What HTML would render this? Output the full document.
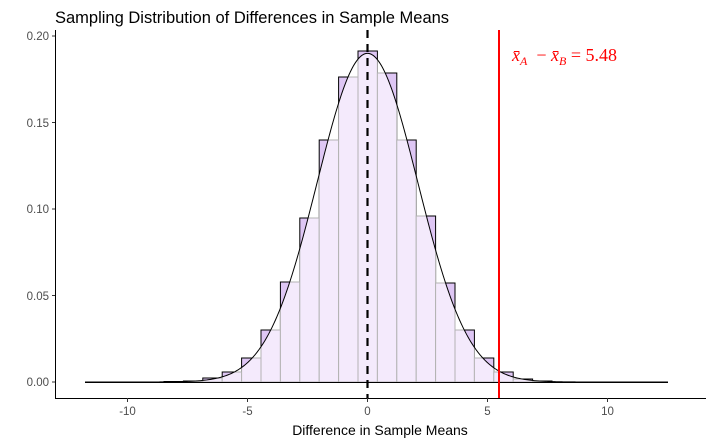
<!DOCTYPE html>
<html><head><meta charset="utf-8"><style>
html,body{margin:0;padding:0;background:#fff;}
svg{display:block;font-family:"Liberation Sans",sans-serif;}
</style></head><body>
<svg id="s" width="706" height="444" xmlns="http://www.w3.org/2000/svg">
<rect width="706" height="444" fill="#fff"/>
<text x="55" y="23" font-size="16.5" fill="#000">Sampling Distribution of Differences in Sample Means</text>
<g id="bars"></g>
<g id="axes" stroke="#000" stroke-width="1">
<line x1="55.5" y1="30" x2="55.5" y2="398"/>
<line x1="55" y1="398.5" x2="706" y2="398.5"/>
</g>
<g font-size="11.5" fill="#4d4d4d" text-anchor="end">
<text x="49" y="386">0.00</text>
<text x="49" y="300">0.05</text>
<text x="49" y="213">0.10</text>
<text x="49" y="127">0.15</text>
<text x="49" y="40">0.20</text>
</g>
<g stroke="#333" stroke-width="1">
<line x1="52" y1="382" x2="55" y2="382"/><line x1="52" y1="295.5" x2="55" y2="295.5"/><line x1="52" y1="209" x2="55" y2="209"/><line x1="52" y1="122.5" x2="55" y2="122.5"/><line x1="52" y1="36" x2="55" y2="36"/>
<line x1="127.5" y1="398" x2="127.5" y2="402"/><line x1="247.5" y1="398" x2="247.5" y2="402"/><line x1="367.5" y1="398" x2="367.5" y2="402"/><line x1="487.5" y1="398" x2="487.5" y2="402"/><line x1="607.5" y1="398" x2="607.5" y2="402"/>
</g>
<g font-size="11.5" fill="#4d4d4d" text-anchor="middle">
<text x="127.5" y="415">-10</text><text x="247.5" y="415">-5</text><text x="367.5" y="415">0</text><text x="487.5" y="415">5</text><text x="607.5" y="415">10</text>
</g>
<text x="380" y="435" font-size="14" fill="#000" text-anchor="middle">Difference in Sample Means</text>
<line x1="499" y1="30" x2="499" y2="398" stroke="#ff0000" stroke-width="2"/>
<text x="512" y="61" font-size="18" fill="#ff0000" font-family="Liberation Serif,serif"><tspan font-style="italic">x̄</tspan><tspan font-size="12" dy="4" font-style="italic">A</tspan><tspan dy="-4" xml:space="preserve">  − </tspan><tspan font-style="italic">x̄</tspan><tspan font-size="12" dy="4" font-style="italic">B</tspan><tspan dy="-4" xml:space="preserve"> = 5.48</tspan></text>
</svg>
<script>
var NS="http://www.w3.org/2000/svg";
var g=document.getElementById('bars');
function py(d){return 382-1730*d;}
var sd=2.1;
function dens(v){return Math.exp(-v*v/(2*sd*sd))/(sd*Math.sqrt(2*Math.PI));}
var tops={"-8":381.5,"-7":381,"-6":378,"-5":372,"-4":358,"-3":330,"-2":282,"-1":218,"0":140,"1":77,"2":51,"3":73,"4":140,"5":216,"6":283,"7":330,"8":358,"9":372,"10":379,"11":381};
var w=19.4;
var pts=[];
for(var x=85;x<=668;x+=1){var v=(x-367.5)/24;pts.push([x,py(dens(v))]);}
var poly="M85,382 "+pts.map(function(p){return"L"+p[0]+","+p[1].toFixed(2)}).join(" ")+" L668,382 Z";
var defs=document.createElementNS(NS,'defs');
var cp=document.createElementNS(NS,'clipPath');cp.setAttribute('id','cc');
var cpp=document.createElementNS(NS,'path');cpp.setAttribute('d',poly);cp.appendChild(cpp);defs.appendChild(cp);g.appendChild(defs);
var light=document.createElementNS(NS,'g');light.setAttribute('clip-path','url(#cc)');
for(var k=-8;k<=11;k++){
 var x0=358+(k-2)*w; var t=tops[k];
 var r=document.createElementNS(NS,'rect');
 r.setAttribute('x',x0);r.setAttribute('y',t);r.setAttribute('width',w);r.setAttribute('height',382-t);
 r.setAttribute('fill','#dec6f4');r.setAttribute('stroke','#000');r.setAttribute('stroke-width','1');
 g.appendChild(r);
 var r2=document.createElementNS(NS,'rect');
 r2.setAttribute('x',x0);r2.setAttribute('y',t);r2.setAttribute('width',w);r2.setAttribute('height',382-t);
 r2.setAttribute('fill','#f4eafc');r2.setAttribute('stroke','#b3b3b3');r2.setAttribute('stroke-width','1');
 light.appendChild(r2);
}
g.appendChild(light);
var base=document.createElementNS(NS,'line');
base.setAttribute('x1',85);base.setAttribute('x2',668);base.setAttribute('y1',382.5);base.setAttribute('y2',382.5);base.setAttribute('stroke','#000');g.appendChild(base);
var cl=document.createElementNS(NS,'path');
cl.setAttribute('d',"M"+pts.map(function(p){return p[0]+","+p[1].toFixed(2)}).join(" L"));
cl.setAttribute('fill','none');cl.setAttribute('stroke','#000');cl.setAttribute('stroke-width','1');g.appendChild(cl);
var dl=document.createElementNS(NS,'line');
dl.setAttribute('x1',367.5);dl.setAttribute('x2',367.5);dl.setAttribute('y1',30);dl.setAttribute('y2',398);
dl.setAttribute('stroke','#000');dl.setAttribute('stroke-width','2.2');dl.setAttribute('stroke-dasharray','8,6');g.appendChild(dl);
</script>
</body></html>
